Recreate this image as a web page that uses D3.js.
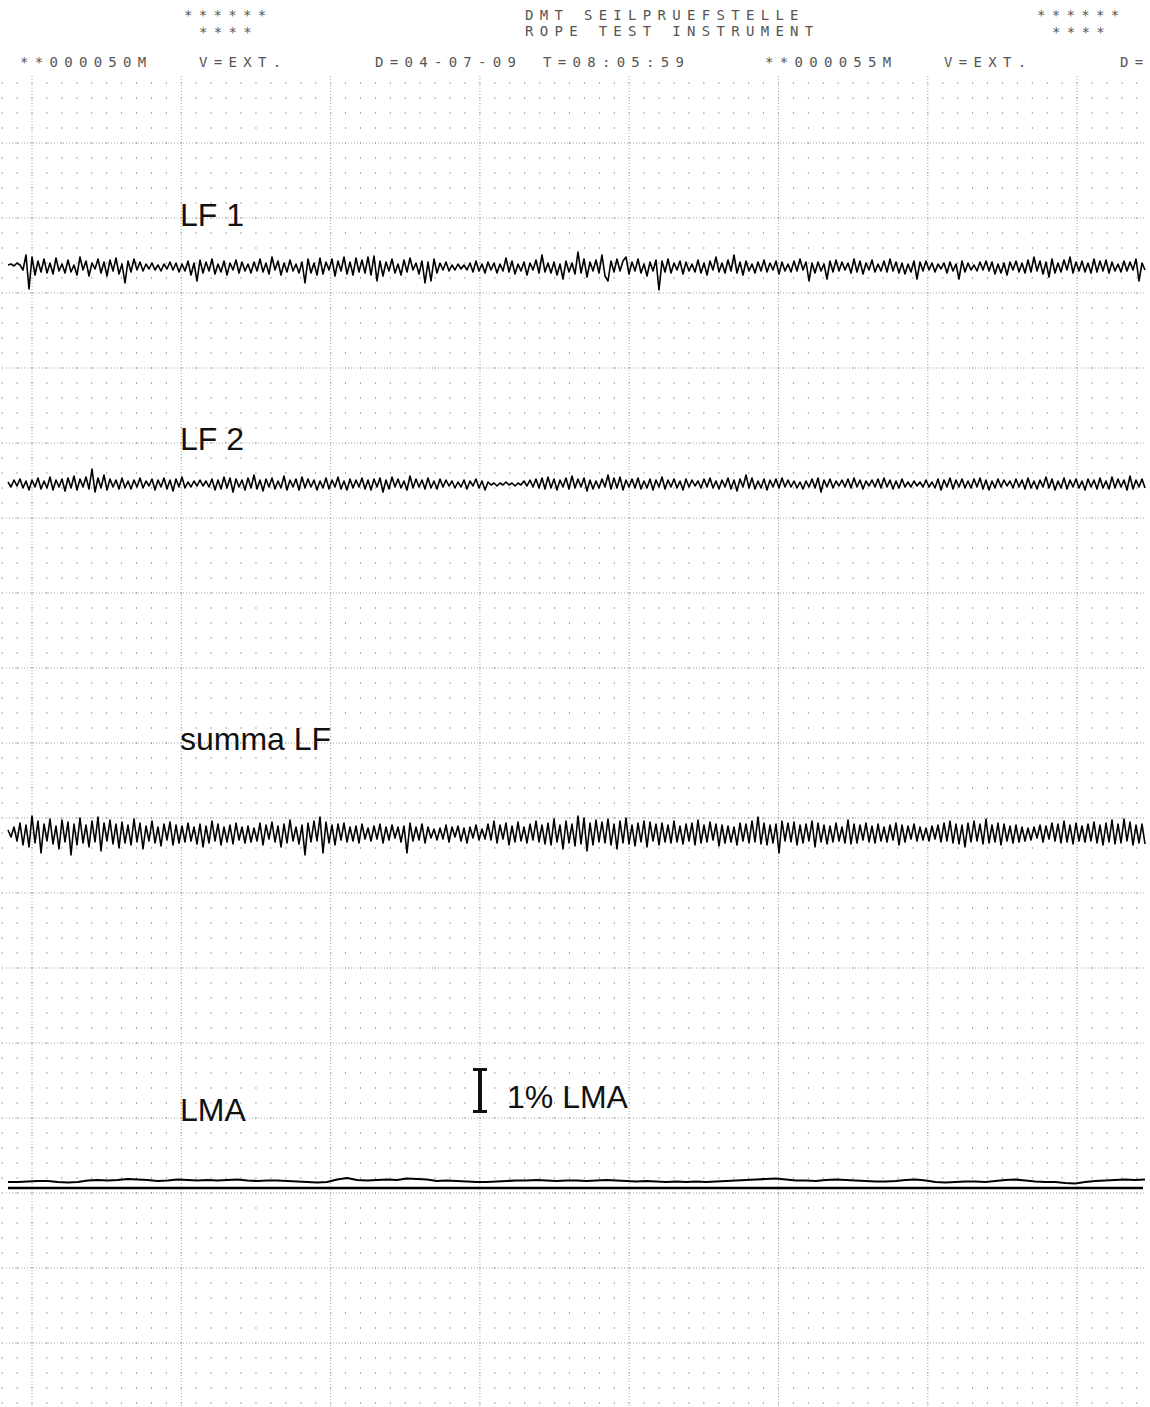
<!DOCTYPE html>
<html>
<head>
<meta charset="utf-8">
<script src="https://d3js.org/d3.v7.min.js"></script>
<style>
  body { margin: 0; background: #fff; }
  svg { display: block; }
</style>
</head>
<body>
<div id="chart"></div>
<script>
const lf1 = [
  2,3,1,4,2,-3,12,-22,10,-8,6,-5,8,-6,4,-7,9,-4,3,-6,
  7,-5,2,-8,10,-3,6,-9,4,-2,8,-6,5,-9,7,-4,9,-7,3,-16,
  6,-5,8,-3,5,-4,3,-2,4,-3,2,-4,3,-2,5,-3,4,-5,3,-4,
  6,-8,4,-14,7,-6,5,-4,8,-7,3,-5,6,-8,4,-3,7,-6,5,-4,
  3,-6,5,-4,8,-5,4,-7,10,-3,6,-8,4,-5,7,-4,3,-6,5,-16,
  8,-6,4,-8,9,-7,5,-3,8,-9,6,-4,10,-7,5,-8,9,-5,7,-6,
  10,-8,11,-14,6,-9,5,-4,8,-6,3,-8,7,-5,9,-3,4,-7,6,-16,
  5,-14,8,-6,4,-3,5,-4,2,-3,3,-2,2,-3,4,-5,6,-4,3,-6,
  5,-3,4,-6,3,-4,9,-5,6,-7,3,-4,5,-8,4,-3,7,-6,12,-5,
  4,-6,5,-8,3,-12,6,-5,4,-7,15,-6,8,-10,5,-4,7,-6,12,-9,
  -14,6,-5,8,-4,6,10,-7,5,-4,8,-6,3,-9,5,-4,7,-23,6,-5,
  8,-6,4,-3,6,-7,5,-4,3,-5,7,-6,4,-8,6,-3,10,-5,4,-6,
  7,-4,12,-6,5,-8,6,-4,3,-6,5,-4,7,-5,4,-3,6,-7,5,-4,
  3,-5,6,-4,8,-3,5,-14,4,-6,5,-4,3,-12,6,-5,7,-4,5,-3,
  4,-6,8,-5,6,-7,4,-3,7,-5,3,-4,6,-5,8,-4,5,-6,4,-7,
  3,-5,6,-12,5,-4,6,-3,4,-5,3,-2,4,-6,5,-4,3,-12,6,-5,
  4,-3,2,-4,5,-3,6,-4,5,-7,3,-6,4,-8,5,-3,6,-5,4,-6,
  7,-5,10,-4,6,-7,5,-10,8,-6,4,-5,7,-3,10,-6,5,-4,6,-5,
  4,-6,8,-5,6,-4,7,-6,5,-4,3,-5,6,-4,5,-3,8,-14,4,-3
];

const lf2 = [
  2,-3,4,-2,5,-4,3,-6,4,-3,6,-5,3,-4,7,-6,4,-3,5,-7,
  6,-4,8,-6,5,-3,7,-5,15,-8,6,-4,9,-6,5,-3,4,-5,6,-4,
  3,-5,4,-3,6,-4,3,-2,5,-6,4,-3,6,-5,4,-7,5,-3,7,-4,
  2,-3,3,-2,4,-2,3,-3,5,-6,4,-5,7,-4,6,-8,5,-3,4,-6,
  6,-4,9,-5,4,-7,5,-3,6,-5,3,-4,8,-6,4,-3,5,-6,7,-4,
  5,-3,4,-6,3,-4,6,-5,4,-3,7,-5,3,-6,5,-4,4,-3,6,-5,
  4,-6,5,-3,6,-8,4,-5,7,-3,5,-4,3,-6,8,-4,5,-3,4,-5,
  6,-4,3,-5,5,-3,4,-2,3,-4,2,-3,4,-5,3,-2,5,-4,3,-6,
  2,-1,1,-2,1,-1,2,-1,1,-2,1,-1,3,-2,4,-3,5,-4,6,-5,
  7,-4,5,-6,4,-3,6,-5,8,-4,5,-3,6,-7,4,-5,3,-4,5,-3,
  9,-5,6,-4,7,-6,4,-3,5,-4,6,-5,3,-4,5,-6,4,-3,7,-5,
  4,-3,5,-4,3,-6,5,-3,4,-2,3,-4,5,-3,6,-4,3,-5,4,-3,
  6,-5,4,-7,5,-3,9,-4,6,-5,3,-4,5,-6,4,-3,5,-4,6,-3,
  4,-3,3,-4,2,-5,3,-3,5,-4,6,-8,4,-3,5,-4,3,-2,4,-3,
  5,-4,6,-3,4,-5,3,-2,4,-3,5,-4,6,-3,4,-5,3,-4,5,-3,
  2,-3,3,-2,2,-3,4,-3,2,-4,5,-6,4,-3,6,-5,4,-3,5,-4,
  3,-4,5,-3,6,-5,4,-6,3,-4,5,-3,4,-2,3,-4,5,-3,4,-5,
  6,-4,3,-5,4,-3,7,-4,5,-6,3,-4,6,-5,4,-3,5,-4,3,-6,
  5,-3,4,-5,6,-4,3,-5,7,-4,5,-3,4,-6,8,-5,4,-3,5,-4
];

const summaLf = [
  3,-4,6,-8,10,-12,8,-14,17,-10,12,-20,9,-8,14,-11,7,-16,13,-9,
  11,-22,9,-12,15,-10,8,-14,12,-9,16,-18,10,-8,13,-11,9,-15,11,-10,
  8,-12,14,-9,10,-16,7,-8,12,-10,6,-13,9,-7,11,-12,8,-10,7,-9,
  10,-8,6,-11,9,-14,7,-10,12,-8,9,-12,6,-9,8,-11,10,-7,6,-10,
  7,-9,5,-8,10,-12,8,-6,11,-9,7,-14,9,-10,13,-8,6,-11,8,-22,
  10,-9,12,-8,16,-20,11,-10,8,-12,9,-7,10,-9,6,-8,7,-10,9,-6,
  5,-8,7,-6,9,-10,6,-7,8,-5,6,-9,7,-20,10,-8,6,-7,9,-10,
  6,-5,4,-7,5,-6,8,-9,6,-4,7,-8,5,-10,6,-5,8,-7,4,-6,
  9,-7,12,-10,8,-6,10,-12,7,-9,11,-8,6,-10,9,-7,12,-9,8,-11,
  10,-12,14,-9,8,-16,12,-10,9,-13,17,-11,15,-18,10,-12,13,-9,11,-10,
  14,-12,9,-16,12,-10,15,-11,8,-13,10,-9,12,-14,11,-8,9,-12,10,-9,
  8,-10,12,-9,7,-11,9,-8,10,-12,13,-10,8,-9,11,-7,9,-13,8,-10,
  7,-9,6,-12,10,-8,9,-10,12,-9,16,-11,10,-12,8,-10,9,-20,12,-8,
  10,-9,11,-12,8,-10,9,-8,12,-14,10,-9,8,-11,7,-9,10,-8,6,-10,
  13,-11,9,-10,8,-7,10,-9,7,-10,9,-8,6,-9,8,-7,10,-12,8,-9,
  7,-6,9,-8,6,-7,5,-8,7,-6,8,-9,10,-8,12,-10,9,-11,8,-14,
  10,-9,12,-8,9,-11,14,-10,8,-9,10,-12,9,-8,7,-10,8,-9,6,-8,
  5,-7,6,-5,8,-9,7,-6,10,-8,9,-10,12,-9,8,-11,10,-8,7,-9,
  9,-8,11,-10,8,-12,10,-9,13,-11,9,-10,14,-8,11,-12,8,-10,9,-11
];

// LMA trace, one sample every ~10px
const lma = [
  -1,-1,-0.5,0,0,-1,-1.5,-1,0.5,1,
  0.5,1,2,1.5,1,0,0.5,1.5,1,0.5,
  1,0.5,1,1.5,0.5,0,0.5,0.5,0,-0.5,
  -1,-1.5,-1,1.5,3,1,0.5,1,1.5,1,
  2.5,2,1.5,0,0.5,0,-0.5,-1,-1,-0.5,
  0,0.5,0.5,1,0.5,0,0.5,0.5,0,0.5,
  1,0.5,0,-0.5,0,-0.5,-1,-0.5,-1,-0.5,
  -1,-0.5,0,0.5,1,1.5,2,2.5,1.5,0.5,
  0.5,0,1,1.5,1,0.5,0,-0.5,-0.5,0,
  1,1.5,0.5,-1,-1.5,-1,-0.5,-0.5,-1,0,
  1,1.5,0.5,-0.5,-1,-1,-2,-2.5,-1,0,
  0.5,1,1.5,1,1.5
];
const lmaBaseline = -7;      // straight reference line under the LMA trace
const lmaOnePercent = 45;    // height of the "1% LMA" bar in trace units

const headerTop = [
  { text: "******", x: 184, y: 20 },
  { text: "****", x: 199, y: 37 },
  { text: "DMT SEILPRUEFSTELLE", x: 525, y: 20 },
  { text: "ROPE TEST INSTRUMENT", x: 525, y: 36 },
  { text: "******", x: 1037, y: 20 },
  { text: "****", x: 1052, y: 37 }
];
const headerRow = [
  { text: "**000050M", x: 20 },
  { text: "V=EXT.", x: 199 },
  { text: "D=04-07-09", x: 375 },
  { text: "T=08:05:59", x: 543 },
  { text: "**000055M", x: 765 },
  { text: "V=EXT.", x: 944 },
  { text: "D=", x: 1120 }
];

const traces = [
  { name: "LF 1", values: lf1, centre: 267, labelY: 226, width: 1.6 },
  { name: "LF 2", values: lf2, centre: 484, labelY: 450, width: 1.6 },
  { name: "summa LF", values: summaLf, centre: 833, labelY: 750, width: 1.6 },
  { name: "LMA", values: lma, centre: 1181, labelY: 1121, width: 2.2 }
];

const width = 1150, height = 1407;
const svg = d3.select("#chart").append("svg")
  .attr("width", width).attr("height", height);
svg.append("rect").attr("width", width).attr("height", height).attr("fill", "#fff");

// ---- chart paper grid ----
const gx = d3.scaleLinear().domain([0, 1]).range([32, 181.3]);   // one major column
const gy = d3.scaleLinear().domain([0, 1]).range([143, 218]);    // one major row
const gridColor = "#a8a8a8";
const grid = svg.append("g");

const minorCols = d3.range(-2, 77).map(k => gx(k / 10)).filter(x => x > 2 && x < 1146);
const minorRows = d3.range(-20, 88).map(k => gy(k / 5)).filter(y => y > 76 && y < height);
const dots = [];
minorCols.forEach(x => minorRows.forEach(y => dots.push([x, y])));
grid.selectAll("rect.dot").data(dots).join("rect")
  .attr("class", "dot")
  .attr("x", d => d[0] - 0.5).attr("y", d => d[1] - 1)
  .attr("width", 1).attr("height", 2)
  .attr("fill", gridColor);

const majorCols = d3.range(0, 8).map(k => gx(k));
grid.selectAll("line.vmaj").data(majorCols).join("line")
  .attr("class", "vmaj")
  .attr("x1", d => d).attr("x2", d => d)
  .attr("y1", 76).attr("y2", height)
  .attr("stroke", gridColor).attr("stroke-width", 1)
  .attr("stroke-dasharray", "1,2");

const majorRows = d3.range(0, 18).map(k => gy(k)).filter(y => y < height);
grid.selectAll("line.hmaj").data(majorRows).join("line")
  .attr("class", "hmaj")
  .attr("x1", 6).attr("x2", 1146)
  .attr("y1", d => d).attr("y2", d => d)
  .attr("stroke", gridColor).attr("stroke-width", 1)
  .attr("stroke-dasharray", "1,2");

// ---- header printed by the recorder ----
const mono = "'DejaVu Sans Mono', 'Liberation Mono', monospace";
svg.selectAll("text.head").data(headerTop).join("text")
  .attr("class", "head")
  .attr("x", d => d.x).attr("y", d => d.y)
  .text(d => d.text)
  .style("font-family", mono).style("font-size", "14px")
  .style("letter-spacing", "6.3px").style("fill", "#555");
svg.selectAll("text.row").data(headerRow).join("text")
  .attr("class", "row")
  .attr("x", d => d.x).attr("y", 67)
  .text(d => d.text)
  .style("font-family", mono).style("font-size", "14px")
  .style("letter-spacing", "6.3px").style("fill", "#555");

// ---- traces ----
const labelFont = "'Liberation Sans', Arial, sans-serif";
traces.forEach(t => {
  const x = d3.scaleLinear().domain([0, t.values.length - 1]).range([8, 1145]);
  const y = d3.scaleLinear().domain([-25, 25]).range([t.centre + 25, t.centre - 25]);
  svg.append("path")
    .datum(t.values)
    .attr("d", d3.line().x((d, i) => x(i)).y(d => y(d)))
    .attr("fill", "none")
    .attr("stroke", "#000")
    .attr("stroke-width", t.width)
    .attr("stroke-linejoin", "round");

  svg.append("text")
    .attr("x", 180).attr("y", t.labelY)
    .text(t.name)
    .style("font-family", labelFont)
    .style("font-size", "32px")
    .style("fill", "#111");

  if (t.name === "LMA") {
    // straight reference line
    svg.append("line")
      .attr("x1", 8).attr("x2", 1143)
      .attr("y1", y(lmaBaseline)).attr("y2", y(lmaBaseline))
      .attr("stroke", "#000").attr("stroke-width", 2.5);

    // 1% LMA scale bar
    const bx = 480, bTop = 1068, bBot = bTop + lmaOnePercent;
    const bar = svg.append("g").attr("stroke", "#111");
    bar.append("line").attr("x1", bx).attr("x2", bx).attr("y1", bTop).attr("y2", bBot).attr("stroke-width", 4);
    bar.append("line").attr("x1", bx - 7).attr("x2", bx + 7).attr("y1", bTop + 1.5).attr("y2", bTop + 1.5).attr("stroke-width", 3);
    bar.append("line").attr("x1", bx - 7).attr("x2", bx + 7).attr("y1", bBot - 1.5).attr("y2", bBot - 1.5).attr("stroke-width", 3);
    svg.append("text")
      .attr("x", 507).attr("y", 1108)
      .text("1% LMA")
      .style("font-family", labelFont)
      .style("font-size", "32px")
      .style("fill", "#111");
  }
});
</script>
</body>
</html>
